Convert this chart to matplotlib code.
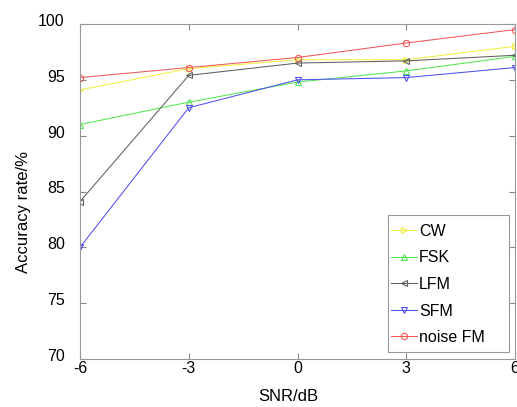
import matplotlib
matplotlib.use("Agg")
import matplotlib.pyplot as plt
from matplotlib.patches import Rectangle
from matplotlib.transforms import ScaledTranslation

plt.rcParams['font.family'] = ['Liberation Sans', 'DejaVu Sans']
plt.rcParams['axes.unicode_minus'] = False

snr = [-6, -3, 0, 3, 6]
cw = [94.1, 96.0, 96.8, 96.8, 98.0]
fsk = [91.0, 93.0, 94.8, 95.8, 97.1]
lfm = [84.1, 95.4, 96.5, 96.7, 97.2]
sfm = [80.0, 92.5, 95.0, 95.2, 96.1]
nfm = [95.2, 96.1, 97.0, 98.3, 99.5]

series = [
    ("CW", cw, "#f0f040", ">"),
    ("FSK", fsk, "#50e850", "^"),
    ("LFM", lfm, "#606060", "<"),
    ("SFM", sfm, "#5050f0", "v"),
    ("noise FM", nfm, "#f05858", "o"),
]

fig = plt.figure(figsize=(5.17, 4.07), dpi=100)
ax = fig.add_axes([80/517, 1-359/407, 435/517, 335/407])
for name, vals, col, m in series:
    ax.plot(snr, vals, color=col, marker=m, markersize=4.5, markerfacecolor='none',
            markeredgecolor=col, linewidth=0.75, markeredgewidth=0.8, label=name)

ax.set_xlim(-6, 6)
ax.set_ylim(70, 100)
ax.set_xticks([-6, -3, 0, 3, 6])
ax.set_yticks([70, 75, 80, 85, 90, 95, 100])
ax.tick_params(direction='in', length=4, color='#888888', labelsize=11.5, top=True, right=True)
ax.tick_params(axis='y', pad=11)
ax.tick_params(axis='x', pad=1.5)
off = ScaledTranslation(0, 3/72, fig.dpi_scale_trans)
for lab in ax.get_yticklabels():
    lab.set_transform(lab.get_transform() + off)
for s in ax.spines.values():
    s.set_color('#999999')
    s.set_linewidth(0.8)
ax.set_xlabel("SNR/dB", fontsize=12)
ax.set_ylabel("Accuracy rate/%", fontsize=12)
ax.xaxis.set_label_coords((288-80)/435, (359-389)/335)
ax.yaxis.set_label_coords((31-80)/435, (359-212)/335)

ax.add_patch(Rectangle(((388-80)/435, (359-352)/335), (509-388)/435, (352-215)/335,
                       transform=ax.transAxes, facecolor='white', edgecolor='#999999',
                       linewidth=0.8, zorder=4))
leg = ax.legend(loc='upper left', bbox_to_anchor=((391-80)/435, (359-224)/335), fontsize=11.5,
                frameon=False, handlelength=1.6, handletextpad=0.15,
                labelspacing=0.72, borderpad=0, borderaxespad=0)
leg.set_zorder(5)

fig.savefig("out.png", dpi=100)
